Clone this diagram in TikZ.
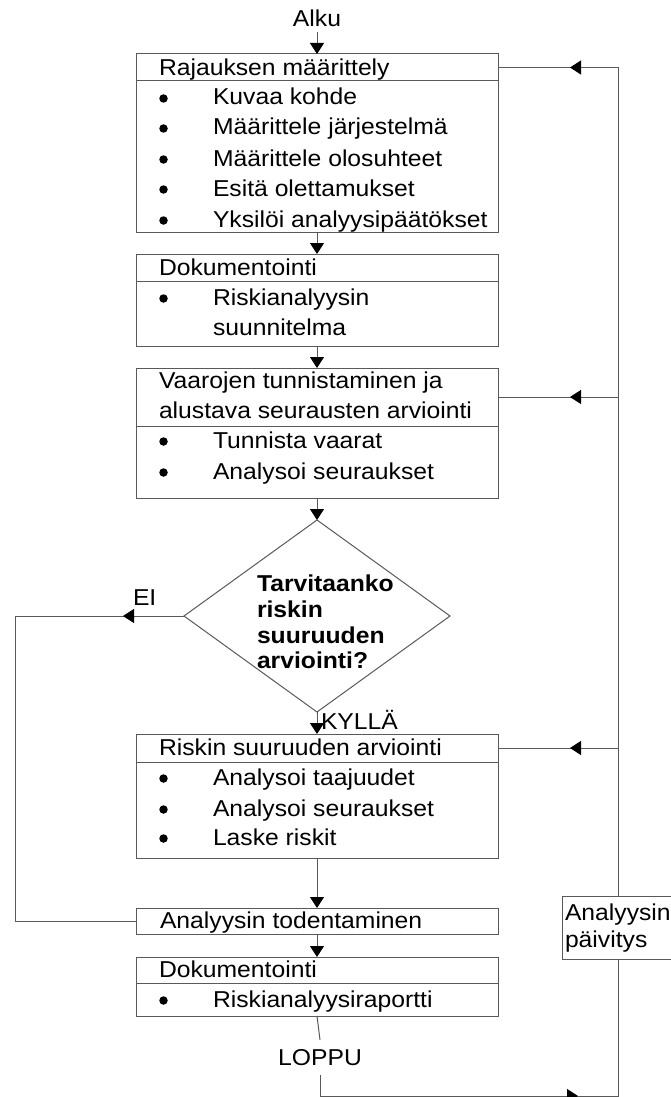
\documentclass[tikz,border=0pt]{standalone}
\usepackage{fontspec}
\setmainfont{Liberation Sans}
\usetikzlibrary{arrows.meta,shapes.geometric,calc}
\newcommand{\vsq}[1]{\scalebox{1}[0.93]{#1}}
\begin{document}
\begin{tikzpicture}[x=1pt,y=1pt,
  ln/.style={draw=black!65, line width=1pt},
  box/.style={draw=black!65, line width=1pt, inner sep=0pt, outer sep=0pt, anchor=north west, minimum width=362pt, fill=white},
  txt/.style={anchor=base west, inner sep=0pt, outer sep=0pt, font=\fontsize{24.7}{28}\selectfont},
  btxt/.style={txt, font=\fontsize{24.7}{28}\selectfont\bfseries},
  ctxt/.style={txt, anchor=base},
  tip/.style={-{Triangle[length=11pt,width=14pt,black]}, draw=black!65, line width=1pt},
  dot/.style={circle, fill=black, inner sep=0pt, outer sep=0pt, minimum size=8.5pt}
]
\useasboundingbox (0,0) rectangle (670,-1097);

% boxes
\node[box, minimum height=27pt] (b1h) at (136,-54) {};
\node[box, minimum height=151pt] (b1b) at (136,-81) {};
\node[box, minimum height=27pt] (b2h) at (136,-254) {};
\node[box, minimum height=65pt] (b2b) at (136,-281) {};
\node[box, minimum height=58pt] (b3h) at (136,-368) {};
\node[box, minimum height=72pt] (b3b) at (136,-426) {};
\node[diamond, draw=black!65, line width=1pt, minimum width=266pt, minimum height=192pt, inner sep=0pt, outer sep=0pt] (dia) at (317,-616) {};
\node[box, minimum height=28pt] (b4h) at (136,-734) {};
\node[box, minimum height=96pt] (b4b) at (136,-762) {};
\node[box, minimum height=26pt] (b5) at (136,-908) {};
\node[box, minimum height=26pt] (b6h) at (136,-957) {};
\node[box, minimum height=33pt] (b6b) at (136,-983) {};
\node[box, minimum width=130pt, minimum height=63pt] (pv) at (562,-896) {};

% texts
\node[ctxt] (alku) at (317,-27) {\vsq{Alku}};
\node[ctxt] (loppu) at (320,-1065) {\vsq{LOPPU}};
\node[txt] (ei) at (133,-605) {\vsq{EI}};
\node[txt] (kylla) at (321,-729) {\vsq{KYLLÄ}};

\node[txt] (t1) at (159,-76) {\vsq{Rajauksen määrittely}};
\node[dot] (d11) at (163.5,-98.5) {};
\node[txt] (t11) at (213,-105) {\vsq{Kuvaa kohde}};
\node[dot] (d12) at (163.5,-128.5) {};
\node[txt] (t12) at (213,-135) {\vsq{Määrittele järjestelmä}};
\node[dot] (d13) at (163.5,-159.5) {};
\node[txt] (t13) at (213,-166) {\vsq{Määrittele olosuhteet}};
\node[dot] (d14) at (163.5,-189.5) {};
\node[txt] (t14) at (213,-196) {\vsq{Esitä olettamukset}};
\node[dot] (d15) at (163.5,-220.5) {};
\node[txt] (t15) at (213,-227) {\vsq{Yksilöi analyysipäätökset}};

\node[txt] (t2) at (159,-275) {\vsq{Dokumentointi}};
\node[dot] (d21) at (163.5,-298.5) {};
\node[txt] (t21) at (213,-305) {\vsq{Riskianalyysin}};
\node[txt] (t22) at (213,-335) {\vsq{suunnitelma}};

\node[txt] (t3a) at (159,-388) {\vsq{Vaarojen tunnistaminen ja}};
\node[txt] (t3b) at (159,-418) {\vsq{alustava seurausten arviointi}};
\node[dot] (d31) at (163.5,-441.5) {};
\node[txt] (t31) at (213,-448) {\vsq{Tunnista vaarat}};
\node[dot] (d32) at (163.5,-472.5) {};
\node[txt] (t32) at (213,-479) {\vsq{Analysoi seuraukset}};

\node[btxt] (q1) at (257,-591) {\vsq{Tarvitaanko}};
\node[btxt] (q2) at (257,-617) {\vsq{riskin}};
\node[btxt] (q3) at (257,-643) {\vsq{suuruuden}};
\node[btxt] (q4) at (257,-668) {\vsq{arviointi?}};

\node[txt] (t4) at (159,-755) {\vsq{Riskin suuruuden arviointi}};
\node[dot] (d41) at (163.5,-778.5) {};
\node[txt] (t41) at (213,-785) {\vsq{Analysoi taajuudet}};
\node[dot] (d42) at (163.5,-809.5) {};
\node[txt] (t42) at (213,-816) {\vsq{Analysoi seuraukset}};
\node[dot] (d43) at (163.5,-838.5) {};
\node[txt] (t43) at (213,-845) {\vsq{Laske riskit}};

\node[txt] (t5) at (160,-928) {\vsq{Analyysin todentaminen}};

\node[txt] (t6) at (159,-977) {\vsq{Dokumentointi}};
\node[dot] (d61) at (163.5,-1000.5) {};
\node[txt] (t61) at (213,-1007) {\vsq{Riskianalyysiraportti}};

\node[txt] (p1) at (565,-920) {\vsq{Analyysin}};
\node[txt] (p2) at (565,-947) {\vsq{päivitys}};

% main flow
\draw[tip] ([yshift=-5pt]alku.south) -- (b1h.north);
\draw[tip] (b1b.south) -- (b2h.north);
\draw[tip] (b2b.south) -- (b3h.north);
\draw[tip] (b3b.south) -- (dia.north);
\draw[tip] (dia.south) -- (b4h.north);
\draw[tip] (b4b.south) -- (b5.north);
\draw[tip] (b5.south) -- (b6h.north);

% EI loop
\coordinate (lx) at (15,-616);
\draw[ln] (dia.west) -- (lx) |- (b5.west);
\coordinate (a5) at (123,-616);
\draw[tip] ($(a5)+(15,0)$) -- (a5);

% update loop
\coordinate (rx) at (618,-1096);
\draw[ln] (b6b.south) -- ([yshift=9pt]loppu.north);
\draw[ln] ([yshift=-10pt]loppu.south) |- (rx) -- (rx |- pv.south);
\coordinate (a4) at (578,-1096);
\draw[tip] ($(a4)+(-15,0)$) -- (a4);
\draw[ln] (rx |- pv.north) |- (b1h.east);
\draw[ln] (rx |- b3h.east) -- (b3h.east);
\draw[ln] (rx |- b4h.east) -- (b4h.east);
\coordinate (a1) at (570,-67.5);
\draw[tip] ($(a1)+(15,0)$) -- (a1);
\coordinate (a2) at (570,-397);
\draw[tip] ($(a2)+(15,0)$) -- (a2);
\coordinate (a3) at (570,-748);
\draw[tip] ($(a3)+(15,0)$) -- (a3);
\end{tikzpicture}
\end{document}
